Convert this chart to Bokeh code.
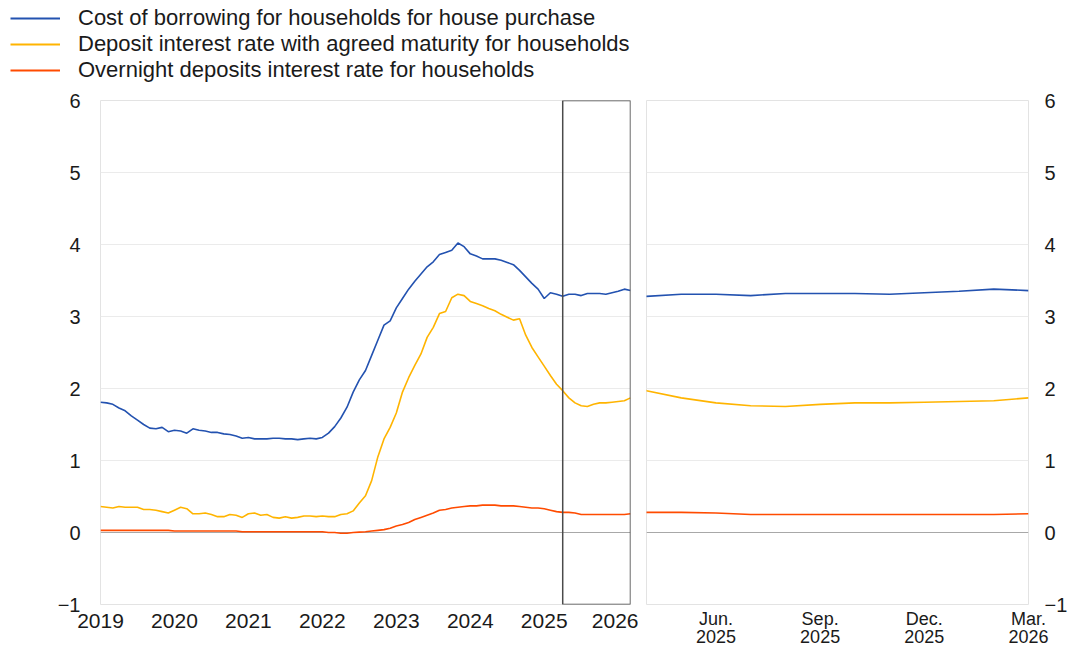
import pandas as pd
from bokeh.plotting import figure
from bokeh.layouts import row, column
from bokeh.models import Range1d, FixedTicker, Legend, LegendItem, Span, ColumnDataSource
from bokeh.embed import file_html
from bokeh.resources import INLINE

# ---------------- data (monthly, Jan 2019 - Mar 2026) ----------------
months = [str(p) for p in pd.period_range("2019-01", "2026-03", freq="M")]

cost_borrowing = [
    1.81, 1.80, 1.78, 1.73, 1.69, 1.62, 1.56, 1.50, 1.45, 1.44, 1.46, 1.40,   # 2019
    1.42, 1.41, 1.38, 1.44, 1.42, 1.41, 1.39, 1.39, 1.37, 1.36, 1.34, 1.31,   # 2020
    1.32, 1.30, 1.30, 1.30, 1.31, 1.31, 1.30, 1.30, 1.29, 1.30, 1.31, 1.30,   # 2021
    1.32, 1.38, 1.47, 1.59, 1.74, 1.95, 2.12, 2.25, 2.46, 2.67, 2.88, 2.94,   # 2022
    3.12, 3.25, 3.38, 3.49, 3.59, 3.69, 3.76, 3.86, 3.89, 3.92, 4.02, 3.97,   # 2023
    3.87, 3.84, 3.80, 3.80, 3.80, 3.78, 3.75, 3.72, 3.64, 3.55, 3.46, 3.38,   # 2024
    3.25, 3.33, 3.31, 3.28, 3.31, 3.31, 3.29, 3.32, 3.32, 3.32, 3.31, 3.33,   # 2025
    3.35, 3.38, 3.36,                                                         # 2026
]
deposit_agreed = [
    0.36, 0.35, 0.34, 0.36, 0.35, 0.35, 0.35, 0.32, 0.32, 0.31, 0.29, 0.27,
    0.31, 0.35, 0.33, 0.26, 0.26, 0.27, 0.25, 0.22, 0.22, 0.25, 0.24, 0.21,
    0.26, 0.27, 0.24, 0.25, 0.21, 0.20, 0.22, 0.20, 0.21, 0.23, 0.23, 0.22,
    0.23, 0.22, 0.22, 0.25, 0.26, 0.30, 0.41, 0.51, 0.72, 1.05, 1.30, 1.46,
    1.66, 1.95, 2.15, 2.32, 2.48, 2.71, 2.85, 3.04, 3.07, 3.26, 3.31, 3.29,
    3.21, 3.18, 3.15, 3.11, 3.08, 3.03, 2.99, 2.95, 2.97, 2.74, 2.57, 2.44,
    2.31, 2.18, 2.06, 1.97, 1.87, 1.80, 1.76, 1.75, 1.78, 1.80, 1.80, 1.81,
    1.82, 1.83, 1.87,
]
overnight = [
    0.03, 0.03, 0.03, 0.03, 0.03, 0.03, 0.03, 0.03, 0.03, 0.03, 0.03, 0.03,
    0.02, 0.02, 0.02, 0.02, 0.02, 0.02, 0.02, 0.02, 0.02, 0.02, 0.02, 0.01,
    0.01, 0.01, 0.01, 0.01, 0.01, 0.01, 0.01, 0.01, 0.01, 0.01, 0.01, 0.01,
    0.01, 0.00, 0.00, -0.01, -0.01, 0.00, 0.005, 0.01, 0.02, 0.03, 0.04, 0.06,
    0.09, 0.11, 0.14, 0.18, 0.21, 0.24, 0.27, 0.31, 0.32, 0.34, 0.35, 0.36,
    0.37, 0.37, 0.38, 0.38, 0.38, 0.37, 0.37, 0.37, 0.36, 0.35, 0.34, 0.34,
    0.33, 0.31, 0.29, 0.28, 0.28, 0.27, 0.25, 0.25, 0.25, 0.25, 0.25, 0.25,
    0.25, 0.25, 0.26,
]

series_names = [
    "Cost of borrowing for households for house purchase",
    "Deposit interest rate with agreed maturity for households",
    "Overnight deposits interest rate for households",
]
series_colors = ["#2352b0", "#ffb400", "#ff4b00"]

y_ticks = [-1, 0, 1, 2, 3, 4, 5, 6]
y_tick_labels = ["\u22121", "0", "1", "2", "3", "4", "5", "6"]

year_tick_months = ["2019-01", "2020-01", "2021-01", "2022-01", "2023-01", "2024-01", "2025-01", "2026-01"]
year_tick_labels = ["2019", "2020", "2021", "2022", "2023", "2024", "2025", "2026"]

zoom_start, zoom_end = "2025-04", "2026-03"
zoom_tick_months = ["2025-06", "2025-09", "2025-12", "2026-03"]
zoom_tick_labels = ["Jun.\n2025", "Sep.\n2025", "Dec.\n2025", "Mar.\n2026"]

# ---------------- build ----------------
x = list(range(len(months)))
src = ColumnDataSource(dict(x=x, a=cost_borrowing, b=deposit_agreed, c=overnight))
cols = ["a", "b", "c"]

FONT = "Liberation Sans"
TXT = "#1a1a1a"
x0 = months.index(zoom_start)
x1 = months.index(zoom_end)
LEG_H = 84
TOP = 100 - LEG_H


def style(p):
    p.outline_line_color = "#e3e3e3"
    p.outline_line_width = 1
    p.xgrid.visible = False
    p.ygrid.grid_line_color = "#ebebeb"
    p.ygrid.grid_line_width = 1
    p.ygrid.ticker = FixedTicker(ticks=y_ticks)
    for ax in (p.xaxis[0], p.yaxis[0]):
        ax.axis_line_color = None
        ax.major_tick_line_color = None
        ax.minor_tick_line_color = None
        ax.major_tick_out = 0
        ax.major_label_text_font = FONT
        ax.major_label_text_color = TXT
    p.yaxis.ticker = FixedTicker(ticks=y_ticks)
    p.yaxis.major_label_overrides = dict(zip(y_ticks, y_tick_labels))
    p.yaxis.major_label_text_font_size = "20px"
    p.add_layout(Span(location=0, dimension="width", line_color="#a8a8a8",
                      line_width=1, level="underlay"))


# legend strip on top
pl = figure(width=720, height=LEG_H, x_range=Range1d(1000, 1001), y_range=Range1d(1000, 1001),
            x_axis_type=None, y_axis_type=None, output_backend="svg", toolbar_location=None,
            min_border=0, outline_line_color=None)
pl.xgrid.visible = False
pl.ygrid.visible = False
leg_renderers = [pl.line("x", c, source=src, line_color=col, line_width=1.8)
                 for c, col in zip(cols, series_colors)]
legend = Legend(items=[LegendItem(label=n, renderers=[r]) for n, r in zip(series_names, leg_renderers)],
                location=(10, 1), orientation="vertical",
                glyph_width=50, glyph_height=20, label_height=20, spacing=-3,
                padding=0, margin=0, label_standoff=18,
                border_line_color=None, background_fill_alpha=0,
                label_text_font=FONT, label_text_font_size="22px", label_text_color=TXT)
pl.add_layout(legend)

p1 = figure(frame_width=530, frame_height=504,
            x_range=Range1d(0, len(months) - 1), y_range=Range1d(y_ticks[0], y_ticks[-1]),
            output_backend="svg", toolbar_location=None,
            min_border_left=100, min_border_right=8, min_border_top=TOP, min_border_bottom=20)
style(p1)
p1.yaxis.major_label_standoff = 20
p1.xaxis.ticker = FixedTicker(ticks=[months.index(m) for m in year_tick_months])
p1.xaxis.major_label_overrides = {months.index(m): l for m, l in zip(year_tick_months, year_tick_labels)}
p1.xaxis.major_label_text_font_size = "21px"
p1.xaxis.major_label_standoff = 9

for c, col in zip(cols, series_colors):
    p1.line("x", c, source=src, line_color=col, line_width=1.6)

p1.quad(left=[x0], right=[x1], bottom=[y_ticks[0]], top=[y_ticks[-1]],
        fill_alpha=0, line_color="#4a4a4a", line_width=1.5)

p2 = figure(frame_width=382, frame_height=504,
            x_range=Range1d(x0, x1), y_range=Range1d(y_ticks[0], y_ticks[-1]),
            y_axis_location="right",
            output_backend="svg", toolbar_location=None,
            min_border_left=8, min_border_right=10, min_border_top=TOP, min_border_bottom=20)
style(p2)
p2.yaxis.major_label_standoff = 16
p2.xaxis.ticker = FixedTicker(ticks=[months.index(m) for m in zoom_tick_months])
p2.xaxis.major_label_overrides = {months.index(m): l for m, l in zip(zoom_tick_months, zoom_tick_labels)}
p2.xaxis.major_label_text_font_size = "18px"
p2.xaxis.major_label_text_line_height = 0.9
p2.xaxis.major_label_standoff = 4

for c, col in zip(cols, series_colors):
    p2.line("x", c, source=src, line_color=col, line_width=1.6)

layout = column(pl, row(p1, p2))
open("out.html", "w").write(file_html(layout, INLINE))
